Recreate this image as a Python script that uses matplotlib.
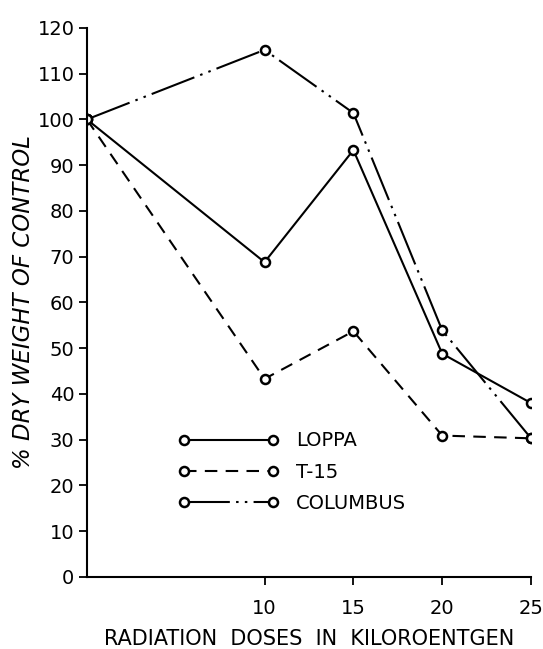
import matplotlib
matplotlib.use("Agg")
import matplotlib.pyplot as plt

doses = [0, 10, 15, 20, 25]
loppa = [100, 68.8, 93.3, 48.8, 38.0]
t15 = [100, 43.3, 53.7, 30.9, 30.3]
columbus = [100, 115.2, 101.4, 53.9, 30.3]
series_names = ["LOPPA", "T-15", "COLUMBUS"]
yticks = [0, 10, 20, 30, 40, 50, 60, 70, 80, 90, 100, 110, 120]
xticks = [10, 15, 20, 25]

plt.rcParams['font.family'] = ['DejaVu Sans']
fig = plt.figure(figsize=(5.43, 6.49), dpi=100)
ax = fig.add_axes([0.160, 0.111, 0.818, 0.846])

mk = dict(marker='o', markersize=6.5, markerfacecolor='white',
          markeredgecolor='black', markeredgewidth=1.8, color='black', lw=1.5)
l1, = ax.plot(doses, loppa, linestyle='-', label=series_names[0], **mk)
l2, = ax.plot(doses, t15, label=series_names[1], **mk)
l2.set_dashes((6, 4))
l3, = ax.plot(doses, columbus, label=series_names[2], **mk)
l3.set_dashes((22, 3, 1.2, 3, 1.2, 3))

ax.set_xlim(0, 25)
ax.set_ylim(0, 120)
ax.set_yticks(yticks)
ax.set_xticks(xticks)
ax.tick_params(axis='both', labelsize=14, length=6, width=1.3, direction='out')
ax.tick_params(axis='x', pad=10)
ax.tick_params(axis='y', pad=3)
for s in ['top', 'right']:
    ax.spines[s].set_visible(False)
for s in ['left', 'bottom']:
    ax.spines[s].set_linewidth(1.5)

ax.set_xlabel("RADIATION  DOSES  IN  KILOROENTGEN", fontsize=15, labelpad=8)
ax.set_ylabel("% DRY WEIGHT OF CONTROL", fontsize=16.5, style='italic', labelpad=2)

leg = ax.legend(handles=[l1, l2, l3], loc='upper left', bbox_to_anchor=(0.165, 0.297),
                frameon=False, fontsize=14, handlelength=5.2, numpoints=2,
                labelspacing=0.64, handletextpad=0.9)

fig.savefig("out.png", dpi=100)
